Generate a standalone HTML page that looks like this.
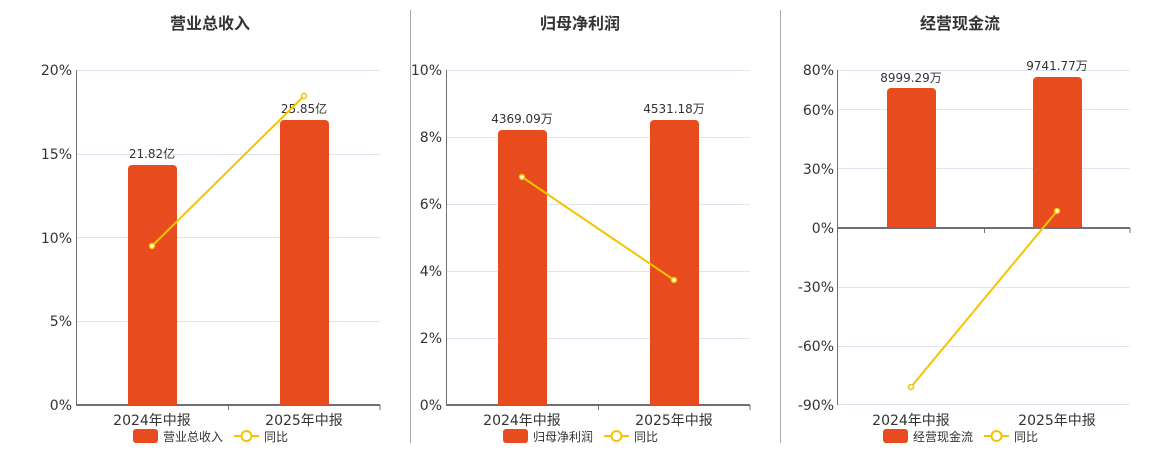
<!DOCTYPE html>
<html><head><meta charset="utf-8"><style>
html,body{margin:0;padding:0;background:#fff;}
svg{display:block;font-family:"DejaVu Sans","Noto Sans CJK SC",sans-serif;}
</style></head><body>
<svg width="1160" height="450" xmlns="http://www.w3.org/2000/svg">
<g fill="#333" font-size="16" font-weight="bold" text-anchor="middle" font-family="Liberation Sans, Noto Sans CJK SC, sans-serif">
<text x="210" y="29">营业总收入</text>
<text x="580" y="29">归母净利润</text>
<text x="960" y="29">经营现金流</text>
</g>
<line x1="410.5" y1="10" x2="410.5" y2="443" stroke="#aaa"/>
<line x1="780.5" y1="10" x2="780.5" y2="443" stroke="#aaa"/>

<!-- chart 1 -->
<g stroke="#e0e6f1">
<line x1="77" y1="70.5" x2="380" y2="70.5"/><line x1="77" y1="154.5" x2="380" y2="154.5"/>
<line x1="77" y1="237.5" x2="380" y2="237.5"/><line x1="77" y1="321.5" x2="380" y2="321.5"/>
</g>
<line x1="76.5" y1="70" x2="76.5" y2="405" stroke="#6e7079"/>
<line x1="76" y1="405" x2="380" y2="405" stroke="#6e7079" stroke-width="2"/>
<g stroke="#6e7079"><line x1="228.5" y1="405" x2="228.5" y2="410"/><line x1="380" y1="405" x2="380" y2="410"/></g>
<g font-size="14" fill="#333" text-anchor="end">
<text x="72" y="75">20%</text><text x="72" y="159">15%</text><text x="72" y="243">10%</text><text x="72" y="326">5%</text><text x="72" y="410">0%</text>
</g>
<path d="M128 405V169a4 4 0 0 1 4-4h41a4 4 0 0 1 4 4V405z" fill="#e84c1e"/>
<path d="M280 405V124a4 4 0 0 1 4-4h41a4 4 0 0 1 4 4V405z" fill="#e84c1e"/>
<g font-size="12" fill="#333" text-anchor="middle"><text x="152" y="158">21.82亿</text><text x="304" y="113">25.85亿</text></g>
<polyline points="152,246 304,96" fill="none" stroke="#f5c400" stroke-width="2"/>
<circle cx="152" cy="246" r="2.5" fill="#fff" stroke="#f5c400" stroke-width="1.5"/>
<circle cx="304" cy="96" r="2.5" fill="#fff" stroke="#f5c400" stroke-width="1.5"/>
<g font-size="14" fill="#333" text-anchor="middle"><text x="152" y="425">2024年中报</text><text x="304" y="425">2025年中报</text></g>

<!-- chart 2 -->
<g stroke="#e0e6f1">
<line x1="447" y1="70.5" x2="750" y2="70.5"/><line x1="447" y1="137.5" x2="750" y2="137.5"/>
<line x1="447" y1="204.5" x2="750" y2="204.5"/><line x1="447" y1="271.5" x2="750" y2="271.5"/><line x1="447" y1="338.5" x2="750" y2="338.5"/>
</g>
<line x1="446.5" y1="70" x2="446.5" y2="405" stroke="#6e7079"/>
<line x1="446" y1="405" x2="750" y2="405" stroke="#6e7079" stroke-width="2"/>
<g stroke="#6e7079"><line x1="598.5" y1="405" x2="598.5" y2="410"/><line x1="750" y1="405" x2="750" y2="410"/></g>
<g font-size="14" fill="#333" text-anchor="end">
<text x="442" y="75">10%</text><text x="442" y="142">8%</text><text x="442" y="209">6%</text><text x="442" y="276">4%</text><text x="442" y="343">2%</text><text x="442" y="410">0%</text>
</g>
<path d="M498 405V134a4 4 0 0 1 4-4h41a4 4 0 0 1 4 4V405z" fill="#e84c1e"/>
<path d="M650 405V124a4 4 0 0 1 4-4h41a4 4 0 0 1 4 4V405z" fill="#e84c1e"/>
<g font-size="12" fill="#333" text-anchor="middle"><text x="522" y="123">4369.09万</text><text x="674" y="113">4531.18万</text></g>
<polyline points="522,177 674,280" fill="none" stroke="#f5c400" stroke-width="2"/>
<circle cx="522" cy="177" r="2.5" fill="#fff" stroke="#f5c400" stroke-width="1.5"/>
<circle cx="674" cy="280" r="2.5" fill="#fff" stroke="#f5c400" stroke-width="1.5"/>
<g font-size="14" fill="#333" text-anchor="middle"><text x="522" y="425">2024年中报</text><text x="674" y="425">2025年中报</text></g>

<!-- chart 3 -->
<g stroke="#e0e6f1">
<line x1="838" y1="70.5" x2="1130" y2="70.5"/><line x1="838" y1="109.5" x2="1130" y2="109.5"/>
<line x1="838" y1="168.5" x2="1130" y2="168.5"/><line x1="838" y1="287.5" x2="1130" y2="287.5"/>
<line x1="838" y1="346.5" x2="1130" y2="346.5"/><line x1="838" y1="404.5" x2="1130" y2="404.5"/>
</g>
<line x1="837.5" y1="70" x2="837.5" y2="405" stroke="#6e7079"/>
<g font-size="14" fill="#333" text-anchor="end">
<text x="834" y="75">80%</text><text x="834" y="115">60%</text><text x="834" y="174">30%</text><text x="834" y="233">0%</text><text x="834" y="292">-30%</text><text x="834" y="351">-60%</text><text x="834" y="410">-90%</text>
</g>
<path d="M887 228V92a4 4 0 0 1 4-4h41a4 4 0 0 1 4 4V228z" fill="#e84c1e"/>
<path d="M1033 228V81a4 4 0 0 1 4-4h41a4 4 0 0 1 4 4V228z" fill="#e84c1e"/>
<line x1="837" y1="228" x2="1130" y2="228" stroke="#6e7079" stroke-width="2"/>
<g stroke="#6e7079"><line x1="984.5" y1="228" x2="984.5" y2="233"/><line x1="1130" y1="228" x2="1130" y2="233"/></g>
<g font-size="12" fill="#333" text-anchor="middle"><text x="911" y="82">8999.29万</text><text x="1057" y="70">9741.77万</text></g>
<polyline points="911,387 1057,211" fill="none" stroke="#f5c400" stroke-width="2"/>
<circle cx="911" cy="387" r="2.5" fill="#fff" stroke="#f5c400" stroke-width="1.5"/>
<circle cx="1057" cy="211" r="2.5" fill="#fff" stroke="#f5c400" stroke-width="1.5"/>
<g font-size="14" fill="#333" text-anchor="middle"><text x="911" y="425">2024年中报</text><text x="1057" y="425">2025年中报</text></g>

<!-- legends -->
<g font-size="12" fill="#333">
<rect x="133" y="429" width="25" height="14" rx="3" fill="#e84c1e"/><text x="163" y="441">营业总收入</text>
<line x1="234" y1="436" x2="259" y2="436" stroke="#f5c400" stroke-width="2"/><circle cx="246.5" cy="436" r="5" fill="#fff" stroke="#f5c400" stroke-width="2"/><text x="264" y="441">同比</text>
<rect x="503" y="429" width="25" height="14" rx="3" fill="#e84c1e"/><text x="533" y="441">归母净利润</text>
<line x1="604" y1="436" x2="629" y2="436" stroke="#f5c400" stroke-width="2"/><circle cx="616.5" cy="436" r="5" fill="#fff" stroke="#f5c400" stroke-width="2"/><text x="634" y="441">同比</text>
<rect x="883" y="429" width="25" height="14" rx="3" fill="#e84c1e"/><text x="913" y="441">经营现金流</text>
<line x1="984" y1="436" x2="1009" y2="436" stroke="#f5c400" stroke-width="2"/><circle cx="996.5" cy="436" r="5" fill="#fff" stroke="#f5c400" stroke-width="2"/><text x="1014" y="441">同比</text>
</g>
</svg>
</body></html>
